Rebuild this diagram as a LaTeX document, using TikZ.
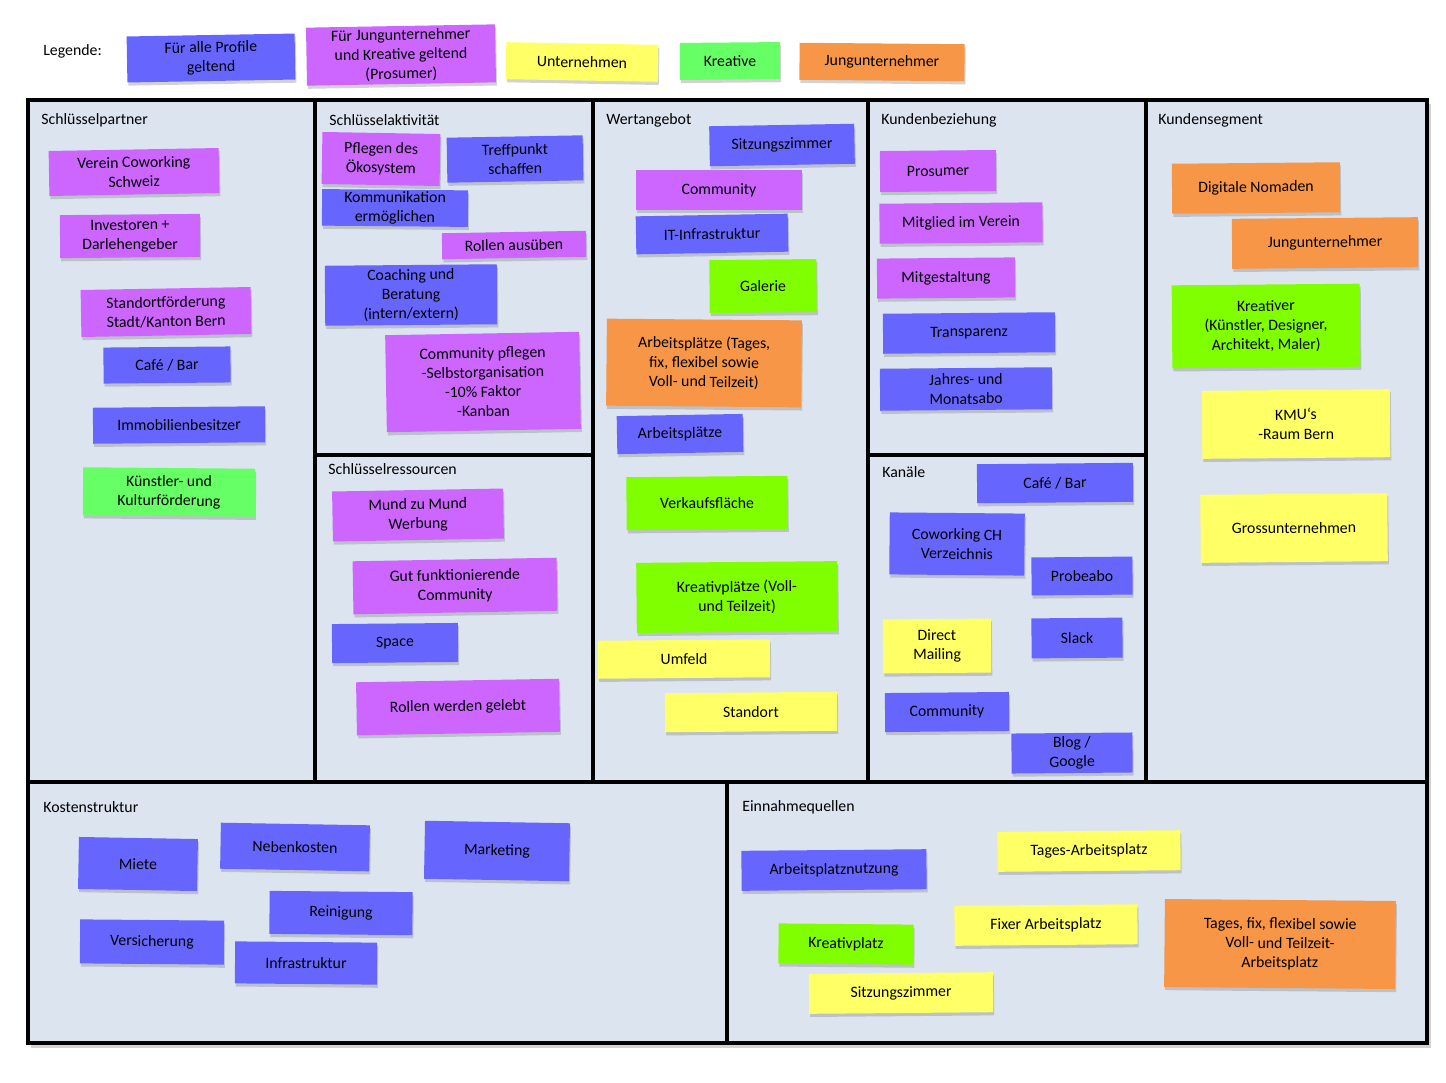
\documentclass[tikz,border=0pt]{standalone}
\usepackage{fontspec}
\setmainfont{Carlito}
\usetikzlibrary{shadows}

\definecolor{allg}{RGB}{102,102,255}
\definecolor{pros}{RGB}{204,102,255}
\definecolor{unt}{RGB}{255,255,102}
\definecolor{krea}{RGB}{102,255,102}
\definecolor{kreav}{RGB}{128,255,0}
\definecolor{jung}{RGB}{247,150,70}
\definecolor{feld}{RGB}{220,228,240}

\tikzset{
  feldbox/.style={fill=feld, draw=black, line width=2.3pt},
  titel/.style={anchor=west, inner sep=0pt, font=\fontsize{9}{11}\selectfont},
  zettel/.style={align=center, inner sep=1pt, font=\fontsize{9}{11}\selectfont,
    drop shadow={shadow xshift=0.6pt, shadow yshift=-1.8pt, opacity=0.35}},
  sz/.style 2 args={minimum width=#1*0.02cm, minimum height=#2*0.02cm},
}

\begin{document}
\begin{tikzpicture}[x=0.02cm, y=-0.02cm]
\useasboundingbox[fill=white] (0,0) rectangle (1446,1082);

\fill[black!35, opacity=0.5] (31,104) rectangle (1431,1048);
\draw[feldbox] (28,100) rectangle (315,782);
\draw[feldbox] (315,100) rectangle (593,455);
\draw[feldbox] (315,455) rectangle (593,782);
\draw[feldbox] (593,100) rectangle (868,782);
\draw[feldbox] (868,100) rectangle (1146,455);
\draw[feldbox] (868,455) rectangle (1146,782);
\draw[feldbox] (1146,100) rectangle (1427,782);
\draw[feldbox] (28,782) rectangle (727,1043);
\draw[feldbox] (727,782) rectangle (1427,1043);

\node[titel] (legende) at (43,51) {Legende:};
\node[zettel, fill=allg, sz={168}{46}, rotate=1] (leg1) at (211,58) {Für alle Profile\\geltend};
\node[zettel, fill=pros, sz={189}{58}, rotate=1] (leg2) at (401,55) {Für Jungunternehmer\\und Kreative geltend\\(Prosumer)};
\node[zettel, fill=unt, sz={152}{37}, rotate=-1] (leg3) at (582,62) {Unternehmen};
\node[zettel, fill=krea, sz={100}{37}, rotate=0.5] (leg4) at (730,61) {Kreative};
\node[zettel, fill=jung, sz={165}{37}, rotate=-0.5] (leg5) at (882,62) {Jungunternehmer};

\node[titel] (t_kp) at (41,120) {Schlüsselpartner};
\node[titel] (t_ka) at (329,120) {Schlüsselaktivität};
\node[titel] (t_kr) at (328,469) {Schlüsselressourcen};
\node[titel] (t_wa) at (606,120) {Wertangebot};
\node[titel] (t_kb) at (881,120) {Kundenbeziehung};
\node[titel] (t_kn) at (882,472) {Kanäle};
\node[titel] (t_ks) at (1158,120) {Kundensegment};
\node[titel] (t_ko) at (43,807) {Kostenstruktur};
\node[titel] (t_ei) at (742,807) {Einnahmequellen};

\node[zettel, fill=pros, sz={170}{45}, rotate=1] (kp1) at (134,172) {Verein Coworking\\Schweiz};
\node[zettel, fill=pros, sz={140}{43}, rotate=0.5] (kp2) at (130,236) {Investoren +\\Darlehengeber};
\node[zettel, fill=pros, sz={170}{47}, rotate=1] (kp3) at (166,312) {Standortförderung\\Stadt/Kanton Bern};
\node[zettel, fill=allg, sz={127}{36}, rotate=0.5] (kp4) at (167,365) {Café / Bar};
\node[zettel, fill=allg, sz={172}{36}, rotate=0.5] (kp5) at (179,425) {Immobilienbesitzer};
\node[zettel, fill=krea, sz={172}{48}, rotate=-0.5] (kp6) at (169,492) {Künstler- und\\Kulturförderung};

\node[zettel, fill=pros, sz={118}{52}, rotate=-1] (ka1) at (381,159) {Pflegen des\\Ökosystem};
\node[zettel, fill=allg, sz={136}{45}, rotate=1] (ka2) at (515,159) {Treffpunkt\\schaffen};
\node[zettel, fill=allg, sz={146}{34}, rotate=-0.5] (ka3) at (395,208) {Kommunikation\\ermöglichen};
\node[zettel, fill=pros, sz={144}{26}, rotate=1] (ka4) at (514,245) {Rollen ausüben};
\node[zettel, fill=allg, sz={172}{60}, rotate=0.5] (ka5) at (411,295) {Coaching und\\Beratung\\(intern/extern)};
\node[zettel, fill=pros, sz={194}{97}, rotate=1] (ka6) at (483,382) {Community pflegen\\-Selbstorganisation\\-10\% Faktor\\-Kanban};

\node[zettel, fill=pros, sz={171}{50}, rotate=1] (kr1) at (418,515) {Mund zu Mund\\Werbung};
\node[zettel, fill=pros, sz={204}{53}, rotate=1] (kr2) at (455,586) {Gut funktionierende\\Community};
\node[zettel, fill=allg, sz={126}{39}, rotate=0.5] (kr3) at (395,643) {Space};
\node[zettel, fill=pros, sz={203}{53}, rotate=1] (kr4) at (458,707) {Rollen werden gelebt};

\node[zettel, fill=allg, sz={145}{40}, rotate=1] (wa1) at (782,145) {Sitzungszimmer};
\node[zettel, fill=pros, sz={166}{40}] (wa2) at (719,190) {Community};
\node[zettel, fill=allg, sz={152}{38}, rotate=1] (wa3) at (712,234) {IT-Infrastruktur};
\node[zettel, fill=kreav, sz={107}{53}, rotate=0.5] (wa4) at (763,286) {Galerie};
\node[zettel, fill=jung, sz={195}{87}, rotate=-0.5] (wa5) at (704,363) {Arbeitsplätze (Tages,\\fix, flexibel sowie\\Voll- und Teilzeit)};
\node[zettel, fill=allg, sz={126}{38}, rotate=1] (wa6) at (680,434) {Arbeitsplätze};
\node[zettel, fill=kreav, sz={161}{53}, rotate=0.5] (wa7) at (707,503) {Verkaufsfläche};
\node[zettel, fill=kreav, sz={201}{70}, rotate=0.5] (wa8) at (737,597) {Kreativplätze (Voll-\\und Teilzeit)};
\node[zettel, fill=unt, sz={172}{38}, rotate=0.5] (wa9) at (684,659) {Umfeld};
\node[zettel, fill=unt, sz={172}{39}, rotate=0.5] (wa10) at (751,712) {Standort};

\node[zettel, fill=pros, sz={116}{41}, rotate=0.5] (kb1) at (938,171) {Prosumer};
\node[zettel, fill=pros, sz={163}{40}, rotate=0.5] (kb2) at (961,223) {Mitglied im Verein};
\node[zettel, fill=pros, sz={138}{40}, rotate=0.5] (kb3) at (946,278) {Mitgestaltung};
\node[zettel, fill=allg, sz={172}{40}, rotate=0.5] (kb4) at (969,333) {Transparenz};
\node[zettel, fill=allg, sz={172}{42}, rotate=0.5] (kb5) at (966,389) {Jahres- und\\Monatsabo};

\node[zettel, fill=allg, sz={156}{39}, rotate=0.5] (kn1) at (1055,483) {Café / Bar};
\node[zettel, fill=allg, sz={135}{62}, rotate=-0.5] (kn2) at (957,544) {Coworking CH\\Verzeichnis};
\node[zettel, fill=allg, sz={101}{38}, rotate=0.5] (kn3) at (1082,576) {Probeabo};
\node[zettel, fill=unt, sz={108}{54}, rotate=0.5] (kn4) at (937,646) {Direct\\Mailing};
\node[zettel, fill=allg, sz={91}{40}, rotate=0.5] (kn5) at (1077,638) {Slack};
\node[zettel, fill=allg, sz={124}{39}, rotate=0.5] (kn6) at (947,712) {Community};
\node[zettel, fill=allg, sz={121}{40}, rotate=0.5] (kn7) at (1072,753) {Blog /\\Google};

\node[zettel, fill=jung, sz={168}{50}, rotate=0.5] (ks1) at (1256,188) {Digitale Nomaden};
\node[zettel, fill=jung, sz={186}{50}, rotate=0.5] (ks2) at (1325,243) {Jungunternehmer};
\node[zettel, fill=kreav, sz={188}{83}, rotate=0.5] (ks3) at (1266,326) {Kreativer\\(Künstler, Designer,\\Architekt, Maler)};
\node[zettel, fill=unt, sz={188}{68}, rotate=0.5] (ks4) at (1296,424) {KMU‘s\\-Raum Bern};
\node[zettel, fill=unt, sz={187}{68}, rotate=0.5] (ks5) at (1294,528) {Grossunternehmen};

\node[zettel, fill=allg, sz={119}{52}, rotate=-1] (ko1) at (138,864) {Miete};
\node[zettel, fill=allg, sz={149}{46}, rotate=-1] (ko2) at (295,847) {Nebenkosten};
\node[zettel, fill=allg, sz={145}{58}, rotate=-1] (ko3) at (497,851) {Marketing};
\node[zettel, fill=allg, sz={143}{43}, rotate=-0.5] (ko4) at (341,913) {Reinigung};
\node[zettel, fill=allg, sz={144}{44}, rotate=-0.5] (ko5) at (152,942) {Versicherung};
\node[zettel, fill=allg, sz={142}{42}, rotate=-0.5] (ko6) at (306,963) {Infrastruktur};

\node[zettel, fill=allg, sz={185}{40}, rotate=0.5] (ei1) at (834,870) {Arbeitsplatznutzung};
\node[zettel, fill=unt, sz={183}{40}, rotate=0.5] (ei2) at (1089,851) {Tages-Arbeitsplatz};
\node[zettel, fill=unt, sz={183}{40}, rotate=0.5] (ei3) at (1046,925) {Fixer Arbeitsplatz};
\node[zettel, fill=kreav, sz={135}{40}, rotate=-0.5] (ei4) at (846,944) {Kreativplatz};
\node[zettel, fill=unt, sz={184}{40}, rotate=0.5] (ei5) at (901,993) {Sitzungszimmer};
\node[zettel, fill=jung, sz={231}{88}, rotate=-0.5] (ei6) at (1280,944) {Tages, fix, flexibel sowie\\Voll- und Teilzeit-\\Arbeitsplatz};

\end{tikzpicture}
\end{document}
